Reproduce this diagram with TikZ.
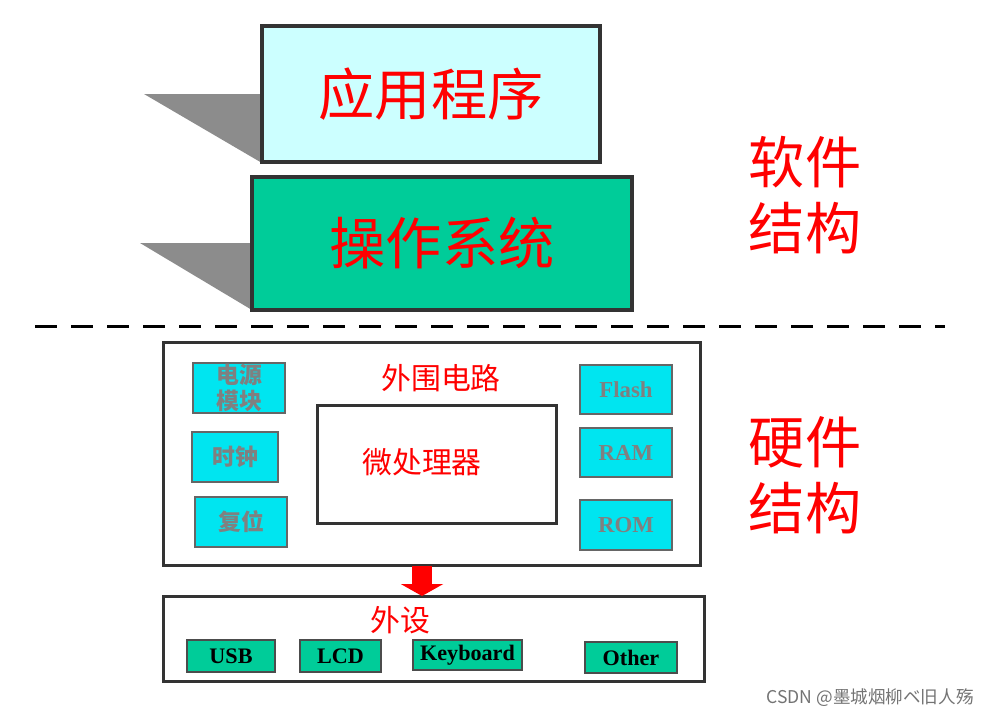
\documentclass[tikz,border=0pt]{standalone}
\usepackage{fontspec}
\setmainfont{Liberation Serif}
\newfontfamily\cjk{Noto Sans CJK SC}
\usetikzlibrary{arrows.meta}
\definecolor{appcyan}{HTML}{CCFFFF}
\definecolor{osgreen}{HTML}{00CC99}
\definecolor{modcyan}{HTML}{00E5F0}
\tikzset{
    layer/.style={draw=black!80, line width=0.35mm, inner sep=0pt},
    bigtxt/.style={text=red, font=\cjk\fontsize{16}{16}\selectfont},
    midtxt/.style={text=red, font=\cjk\fontsize{8.5}{9}\selectfont},
    modbox/.style={draw=black!60, fill=modcyan, line width=0.2mm, text=black!50, font=\cjk\fontsize{6.5}{7.5}\selectfont\bfseries, align=center, inner sep=0pt},
    devbox/.style={draw=black!70, fill=osgreen, line width=0.2mm, font=\bfseries\fontsize{6.3}{7}\selectfont, inner sep=0pt}
}
\newcommand{\boxat}[6]{
	\node[#6, minimum width=(#3-#1)*0.1mm, minimum height=(#4-#2)*0.1mm] (#5) at ({(#1+#3)/2},{(#2+#4)/2}) {};
}
\begin{document}
\begin{tikzpicture}[x=0.1mm,y=-0.1mm]
	\useasboundingbox (0,0) rectangle (990,718);
	% shadows
	\fill[black!45] (144,94) -- (262,94) -- (262,163) -- cycle;
	\fill[black!45] (140,243) -- (252,243) -- (252,310) -- cycle;

	% software layers
	\boxat{262}{26}{600}{162}{app}{layer, fill=appcyan}
	\node[bigtxt] at (app) {应用程序};
	\boxat{252}{177}{632}{310}{os}{layer, fill=osgreen}
	\node[bigtxt] at (os) {操作系统};

	\draw[line width=0.3mm, dashed, dash pattern=on 2.2mm off 1.4mm] (35,326) -- (945,326);

	\node[bigtxt, align=center] (sw) at (805,195) {软件\\[1mm]结构};
	\node[bigtxt, align=center] (hw) at (805,475) {硬件\\[1mm]结构};

	% hardware
	\boxat{163}{342}{700}{565}{outer}{layer, line width=0.3mm}
	\node[midtxt] at (441,378) {外围电路};
	\boxat{317}{405}{556}{523}{cpu}{layer, line width=0.3mm}
	\node[midtxt] at (422,462) {微处理器};

	\boxat{193}{363}{285}{413}{pwr}{modbox}
	\node[modbox, draw=none, fill=none] at (pwr) {电源\\模块};
	\boxat{192}{432}{278}{482}{clk}{modbox}
	\node[modbox, draw=none, fill=none] at (clk) {时钟};
	\boxat{195}{497}{287}{547}{rst}{modbox}
	\node[modbox, draw=none, fill=none] at (rst) {复位};

	\boxat{580}{365}{672}{414}{flash}{modbox}
	\node[modbox, draw=none, fill=none, font=\bfseries\fontsize{6.5}{7}\selectfont] at (flash) {Flash};
	\boxat{580}{428}{672}{477}{ram}{modbox}
	\node[modbox, draw=none, fill=none, font=\bfseries\fontsize{6.5}{7}\selectfont] at (ram) {RAM};
	\boxat{580}{500}{672}{550}{rom}{modbox}
	\node[modbox, draw=none, fill=none, font=\bfseries\fontsize{6.5}{7}\selectfont] at (rom) {ROM};

	\boxat{163}{596}{704}{681}{peri}{layer, line width=0.3mm}
	\node[midtxt] at (400,620) {外设};
	\draw[red, line width=2mm, -{Triangle[width=4.2mm,length=1.2mm]}] (422,566) -- (422,596);

	\boxat{187}{640}{275}{672}{usb}{devbox}
	\node at (usb) [font=\bfseries\fontsize{6.3}{7}\selectfont] {USB};
	\boxat{300}{640}{381}{672}{lcd}{devbox}
	\node at (lcd) [font=\bfseries\fontsize{6.3}{7}\selectfont] {LCD};
	\boxat{413}{640}{522}{670}{kbd}{devbox}
	\node at (kbd) [font=\bfseries\fontsize{6.3}{7}\selectfont] {Keyboard};
	\boxat{585}{642}{677}{673}{oth}{devbox}
	\node at (oth) [font=\bfseries\fontsize{6.3}{7}\selectfont] {Other};

	\node[text=black!55, font=\cjk\fontsize{5}{6}\selectfont] (mark) at (870,698) {CSDN @墨城烟柳ベ旧人殇};
\end{tikzpicture}
\end{document}
